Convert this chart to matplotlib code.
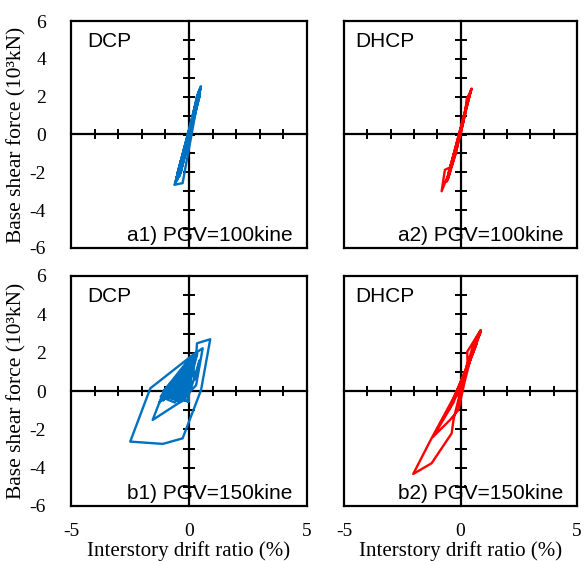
import matplotlib.pyplot as plt

# Hysteresis loops (drift ratio %, base shear 10^3 kN)
dcp100_x = [0.0, 0.25, 0.45, 0.51, 0.40, 0.10, -0.25, -0.50, -0.62, -0.27, -0.17, 0.05,
            0.30, 0.48, 0.35, 0.00, -0.35, -0.52, -0.38, -0.10, 0.20, 0.42, 0.50, 0.15,
            -0.20, -0.45, -0.30, 0.00, 0.28, 0.45, 0.35, -0.40, 0.44, -0.48, 0.30,
            -0.30, 0.46, -0.55, 0.38, -0.35, 0.42, -0.45, 0.49, -0.58, 0.33, -0.42,
            0.47, -0.50, 0.10, -0.15, 0.0]
dcp100_y = [0.0, 1.4, 2.35, 2.55, 2.2, 0.6, -1.2, -2.3, -2.66, -2.57, -1.87, -0.4,
            1.3, 2.45, 2.0, 0.1, -1.6, -2.45, -2.1, -0.8, 0.9, 2.2, 2.5, 0.8,
            -1.0, -2.2, -1.7, -0.3, 1.3, 2.3, 2.1, -2.2, 2.0, -2.3, 1.4,
            -1.7, 2.4, -2.4, 1.9, -2.0, 2.3, -1.9, 2.45, -2.55, 1.7, -2.05,
            2.2, -2.1, 0.5, -0.8, 0.0]

dhcp100_x = [0.0, 0.2, 0.27, 0.45, 0.48, 0.35, 0.1, -0.25, -0.55, -0.81, -0.67, -0.38,
             -0.2, 0.05, 0.28, 0.45, 0.3, 0.0, -0.3, -0.55, -0.45, -0.15, 0.1, 0.38,
             -0.5, 0.42, -0.6, 0.2, 0.0]
dhcp100_y = [0.0, 1.2, 1.9, 2.3, 2.43, 2.0, 0.6, -0.9, -2.2, -3.0, -1.87, -1.7,
             -1.0, 0.4, 1.5, 2.35, 1.8, 0.2, -1.3, -2.4, -2.0, -0.7, 0.6, 2.1,
             -2.0, 2.2, -2.5, 1.1, 0.0]

dcp150_x = [0.0, 0.15, 0.30, -0.30, -0.90, -1.10, -0.60, 0.10, 0.35, 0.05, -0.03, -0.50,
            -1.00, -1.25, -0.70, 0.00, 0.30, 0.34, 0.90, 0.51, -0.27, -1.11, -2.49, -1.64,
            0.16, 0.58, 0.30, -0.40, -1.54, -1.05, -0.30, 0.20, 0.00, -0.60, -1.20, -0.50,
            0.10, -0.03, -0.80, 0.10, -0.20, -1.00, 0.05, -0.40, -0.90, 0.15, -0.10, -0.70,
            0.00, -0.50, -1.10, 0.10, -0.30, -0.60, 0.05, -0.15, -0.85, 0.12, -0.35,
            -1.05, 0.06, -0.55, 0.02, -0.95, 0.09, -0.45, -0.75, 0.04, -0.65, 0.08,
            -1.10, 0.00, -0.38, 0.07, -0.85, 0.03, -0.52, 0.10,
            0.25, 0.45, 0.10, 0.0]
dcp150_y = [0.0, 1.2, 1.9, 0.9, -0.2, -0.5, 0.2, 1.5, 1.95, 0.5, -0.56, -0.3,
            -0.1, -0.6, 0.4, 1.4, 1.8, 2.49, 2.7, 0.05, -2.47, -2.76, -2.64, 0.14,
            1.88, 2.23, 0.3, -0.6, -1.51, 0.05, 1.0, 1.9, 0.3, -0.6, -0.3, 0.8,
            1.6, -0.56, -0.1, 1.7, -0.5, -0.3, 1.5, -0.6, 0.0, 1.8, -0.3, -0.4,
            1.2, -0.5, -0.2, 1.6, -0.55, 0.3, 1.3, -0.4, -0.15, 1.75, -0.45,
            -0.25, 1.65, -0.45, 1.45, 0.05, 1.7, -0.2, -0.35, 1.55, 0.15, 1.78,
            -0.05, 1.35, -0.5, 1.6, -0.3, 1.5, -0.1, 1.72,
            0.6, 1.6, 0.2, 0.0]

dhcp150_x = [0.0, 0.3, 0.29, 0.87, 0.6, 0.2, -0.3, -1.17, -0.45, -0.09, 0.2, 0.5,
             0.87, 0.3, -0.31, -1.3, -2.03, -1.24, -0.38, -0.3, -0.1, 0.3, 0.6,
             -0.5, 0.7, -0.2, 0.0]
dhcp150_y = [0.0, 1.5, 2.05, 3.18, 2.6, 1.0, -0.6, -2.38, -1.51, -0.99, 0.6, 2.0,
             3.1, 1.2, -0.38, -2.6, -4.33, -3.77, -2.21, -1.5, -0.5, 1.3, 2.2,
             -1.0, 2.5, -0.3, 0.0]

panel_labels = ['a1) PGV=100kine', 'a2) PGV=100kine', 'b1) PGV=150kine', 'b2) PGV=150kine']
system_names = ['DCP', 'DHCP', 'DCP', 'DHCP']
line_colors = ['#0070C0', '#FF0000', '#0070C0', '#FF0000']
xtick_vals = [-5, 0, 5]
ytick_vals = [-6, -4, -2, 0, 2, 4, 6]

loops = [(dcp100_x, dcp100_y), (dhcp100_x, dhcp100_y),
         (dcp150_x, dcp150_y), (dhcp150_x, dhcp150_y)]

serif = 'Liberation Serif'
sans = 'Liberation Sans'

fig = plt.figure(figsize=(5.85, 5.61), dpi=100)
W, H = 585, 561
# pixel boxes: left, right, top, bottom
boxes = [(71, 307, 21, 248), (344, 577, 21, 248),
         (71, 307, 276, 506), (344, 577, 276, 506)]
name_off = [0.068, 0.047, 0.068, 0.047]

for i, (x, y) in enumerate(loops):
    l, r, t, b = boxes[i]
    ax = fig.add_axes([l / W, 1 - b / H, (r - l) / W, (b - t) / H])
    ax.plot(x, y, color=line_colors[i], lw=1.7, solid_joinstyle='round', zorder=2)
    ax.set_xlim(-5, 5)
    ax.set_ylim(-6, 6)
    for s in ax.spines.values():
        s.set_linewidth(1.6)

    # outer tick labels only
    ax.set_xticks(xtick_vals)
    ax.set_yticks(ytick_vals)
    ax.tick_params(axis='both', length=0)
    ax.tick_params(axis='y', pad=18)
    ax.tick_params(axis='x', pad=12)
    if i % 2 == 0:
        ax.set_yticklabels([str(v) for v in ytick_vals], fontfamily=serif, fontsize=14)
        ax.set_ylabel('Base shear force (10³kN)', fontfamily=serif, fontsize=15.5)
        ax.yaxis.set_label_coords(-0.188, 0.5)
    else:
        ax.set_yticklabels([])
    if i >= 2:
        ax.set_xticklabels([str(v) for v in xtick_vals], fontfamily=serif, fontsize=14)
        ax.set_xlabel('Interstory drift ratio (%)', fontfamily=serif, fontsize=15)
        ax.xaxis.set_label_coords(0.5, -0.152)
    else:
        ax.set_xticklabels([])

    # axes crossing at the origin
    sx = ax.secondary_xaxis(0.5)
    sx.set_xticks(range(-4, 5))
    sx.set_xticklabels([])
    sx.tick_params(direction='inout', length=7, width=1.4)
    for s in sx.spines.values():
        s.set_linewidth(1.6)
    sy = ax.secondary_yaxis(0.5)
    sy.set_yticks(range(-5, 6))
    sy.set_yticklabels([])
    sy.tick_params(direction='inout', length=9, width=1.4)
    for s in sy.spines.values():
        s.set_linewidth(1.6)

    ax.text(name_off[i], 0.91, system_names[i], transform=ax.transAxes,
            fontfamily=sans, fontsize=15, va='center', ha='left')
    ax.text(0.94, 0.055, panel_labels[i], transform=ax.transAxes,
            fontfamily=sans, fontsize=15, va='center', ha='right')

fig.savefig('out.png', dpi=100)
